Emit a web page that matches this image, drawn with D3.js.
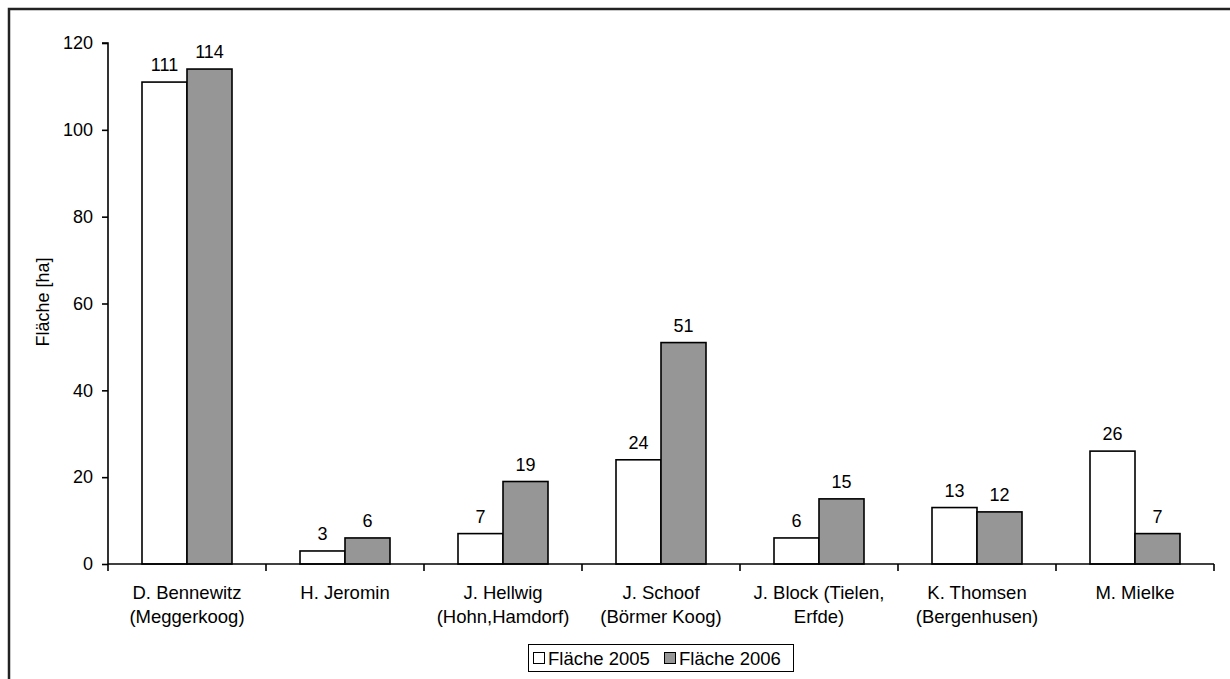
<!DOCTYPE html>
<html><head><meta charset="utf-8">
<script src="https://cdn.jsdelivr.net/npm/d3@7"></script>
<style>body{margin:0;background:#fff}svg{display:block;font-family:"Liberation Sans",Arial,sans-serif}</style>
</head><body>
<script>
const categories = [["D. Bennewitz","(Meggerkoog)"],["H. Jeromin"],["J. Hellwig","(Hohn,Hamdorf)"],["J. Schoof","(Börmer Koog)"],["J. Block (Tielen,","Erfde)"],["K. Thomsen","(Bergenhusen)"],["M. Mielke"]];
const seriesNames = ["Fläche 2005","Fläche 2006"];
const values2005 = [111,3,7,24,6,13,26];
const values2006 = [114,6,19,51,15,12,7];
const yTicks = [0,20,40,60,80,100,120];
const colors = ["#ffffff","#969696"];

(function(){
const W=1230,H=679;
const svg=d3.select("body").append("svg").attr("width",W).attr("height",H);
svg.append("rect").attr("x",9).attr("y",9).attr("width",1300).attr("height",800).attr("fill","none").attr("stroke","#222").attr("stroke-width",2.5);

const pl=108,pr=1214,pt=43,pb=564;
const x=d3.scaleBand().domain(d3.range(categories.length)).range([pl,pr]).paddingInner(0).paddingOuter(0);
const xs=d3.scaleBand().domain([0,1]).range([0,x.bandwidth()]).paddingInner(0).paddingOuter(34/45);
const y=d3.scaleLinear().domain([0,120]).range([pb,pt]);

const data=[values2005,values2006];
const g=svg.append("g");
data.forEach((vals,s)=>{
  g.selectAll(null).data(vals).enter().append("rect")
    .attr("x",(d,i)=>x(i)+xs(s)).attr("y",d=>y(d))
    .attr("width",xs.bandwidth()).attr("height",d=>y(0)-y(d))
    .attr("fill",colors[s]).attr("stroke","#000").attr("stroke-width",1.6);
  g.selectAll(null).data(vals).enter().append("text")
    .attr("x",(d,i)=>x(i)+xs(s)+xs.bandwidth()/2).attr("y",d=>y(d)-11)
    .attr("text-anchor","middle").attr("font-size",18).attr("fill","#000").text(d=>d);
});

const yAxis=d3.axisLeft(y).tickValues(yTicks).tickSize(6).tickPadding(9);
const ya=svg.append("g").attr("transform",`translate(${pl},0)`).call(yAxis);
ya.select(".domain").attr("stroke","#000").attr("stroke-width",1.6).attr("d",`M-6,${pt}H0V${pb}`);
ya.selectAll(".tick line").attr("stroke","#000").attr("stroke-width",1.6);
ya.selectAll("text").attr("font-size",18).attr("fill","#000").attr("font-family","Liberation Sans, Arial, sans-serif");

const xa=svg.append("g").attr("transform",`translate(0,${pb})`);
xa.append("line").attr("x1",pl).attr("x2",pr).attr("stroke","#000").attr("stroke-width",1.6);
xa.selectAll(null).data(d3.range(categories.length+1)).enter().append("line")
  .attr("x1",i=>pl+i*x.bandwidth()).attr("x2",i=>pl+i*x.bandwidth()).attr("y1",0).attr("y2",7)
  .attr("stroke","#000").attr("stroke-width",1.6);
categories.forEach((lines,i)=>{
  const t=xa.append("text").attr("text-anchor","middle").attr("font-size",18.5).attr("fill","#000");
  lines.forEach((l,k)=>t.append("tspan").attr("x",x(i)+x.bandwidth()/2).attr("y",35+k*24).text(l));
});

svg.append("text").attr("transform",`translate(49,302) rotate(-90)`).attr("text-anchor","middle")
  .attr("font-size",18).attr("fill","#000").text("Fläche [ha]");

const lg=svg.append("g");
lg.append("rect").attr("x",528.5).attr("y",644.5).attr("width",265).attr("height",27).attr("fill","#fff").attr("stroke","#000").attr("stroke-width",1);
const items=[{x:533.5},{x:664.5}];
seriesNames.forEach((n,s)=>{
  lg.append("rect").attr("x",items[s].x).attr("y",652.5).attr("width",11).attr("height",11).attr("fill",colors[s]).attr("stroke","#000").attr("stroke-width",1);
  lg.append("text").attr("x",items[s].x+14.5).attr("y",665).attr("font-size",18.5).attr("fill","#000").text(n);
});
})();
</script>
</body></html>
